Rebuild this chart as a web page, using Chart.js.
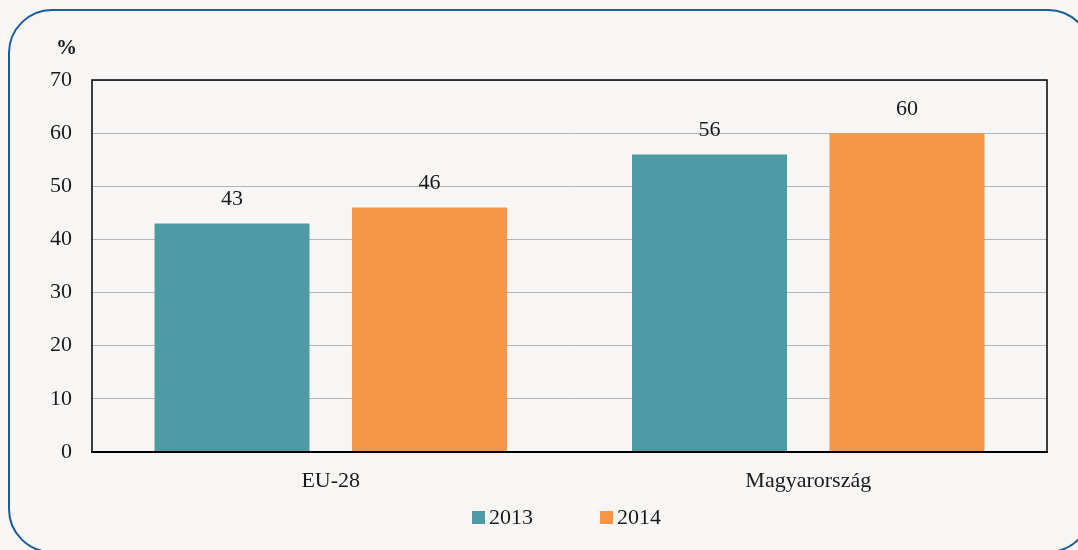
<!DOCTYPE html>
<html>
<head>
<meta charset="utf-8">
<script src="https://cdn.jsdelivr.net/npm/chart.js@4.4.1/dist/chart.umd.min.js"></script>
<style>
  html, body { margin: 0; padding: 0; background: #f7f6f4; overflow: hidden; }
  body { width: 1078px; height: 550px; position: relative; font-family: 'Liberation Serif', 'DejaVu Serif', serif; color: #1a1a1a; }
  #frame { position: absolute; left: 8px; top: 9px; width: 1080px; height: 540px; border: 2px solid #1c5a9a; border-radius: 44px; }
  #wrap { position: absolute; left: 0; top: 0; width: 1078px; height: 550px; }
  #unit { position: absolute; left: 56px; top: 35px; font-weight: bold; font-size: 21px; }
  #legend { position: absolute; left: 472px; top: 504px; display: flex; gap: 67px; font-size: 22px; }
  .lg-item { display: flex; align-items: center; gap: 4px; }
  .lg-box { width: 13px; height: 13px; display: inline-block; }
</style>
</head>
<body>
<div id="frame"></div>
<div id="wrap"><canvas id="c" width="1078" height="550"></canvas></div>
<div id="unit">%</div>
<div id="legend"></div>
<script>
/* ─── data ─── */
const CATEGORIES = ['EU-28', 'Magyarország'];
const SERIES_NAMES = ['2013', '2014'];
const VALUES_2013 = [43, 56];
const VALUES_2014 = [46, 60];
const COLORS = ['#4f9ba5', '#f79646'];

const FONT = "'Liberation Serif', 'DejaVu Serif', serif";

/* plot frame: border around chart area, heavier base line */
const frameBox = {
  id: 'frameBox',
  beforeDatasetsDraw(chart) {
    const { ctx, chartArea: a } = chart;
    ctx.save();
    ctx.strokeStyle = '#000';
    ctx.lineWidth = 1.5;
    ctx.strokeRect(a.left, a.top, a.right - a.left, a.bottom - a.top);
    ctx.restore();
  },
  afterDatasetsDraw(chart) {
    const { ctx, chartArea: a } = chart;
    ctx.save();
    ctx.strokeStyle = '#000';
    ctx.lineWidth = 2;
    ctx.beginPath();
    ctx.moveTo(a.left - 1, a.bottom);
    ctx.lineTo(a.right + 1, a.bottom);
    ctx.stroke();
    ctx.restore();
  }
};

/* value labels above bars */
const valueLabels = {
  id: 'valueLabels',
  afterDatasetsDraw(chart) {
    const { ctx } = chart;
    ctx.save();
    ctx.font = `22px ${FONT}`;
    ctx.fillStyle = '#1a1a1a';
    ctx.textAlign = 'center';
    ctx.textBaseline = 'middle';
    chart.data.datasets.forEach((ds, i) => {
      chart.getDatasetMeta(i).data.forEach((bar, j) => {
        ctx.fillText(ds.data[j], bar.x, bar.y - 24);
      });
    });
    ctx.restore();
  }
};

new Chart(document.getElementById('c'), {
  type: 'bar',
  data: {
    labels: CATEGORIES,
    datasets: [
      { label: SERIES_NAMES[0], data: VALUES_2013, backgroundColor: COLORS[0] },
      { label: SERIES_NAMES[1], data: VALUES_2014, backgroundColor: COLORS[1] },
    ]
  },
  options: {
    responsive: false,
    animation: false,
    categoryPercentage: 0.827,
    barPercentage: 0.785,
    layout: { padding: { left: 0, right: 31, top: 80, bottom: 0 } },
    plugins: { legend: { display: false }, tooltip: { enabled: false } },
    scales: {
      x: {
        grid: { display: false, drawTicks: false },
        border: { display: false },
        ticks: { color: '#1a1a1a', font: { family: FONT, size: 22 }, padding: 16 },
        afterFit: s => { s.height = 98; }
      },
      y: {
        min: 0, max: 70,
        grid: { color: '#b4b4b4', lineWidth: 1, drawTicks: false },
        border: { display: false },
        ticks: { stepSize: 10, color: '#1a1a1a', font: { family: FONT, size: 22 }, padding: 20 },
        afterFit: s => { s.width = 92; }
      }
    }
  },
  plugins: [frameBox, valueLabels]
});

/* html legend */
document.getElementById('legend').innerHTML = SERIES_NAMES.map((n, i) =>
  `<div class="lg-item"><span class="lg-box" style="background:${COLORS[i]}"></span><span>${n}</span></div>`
).join('');
</script>
</body>
</html>
